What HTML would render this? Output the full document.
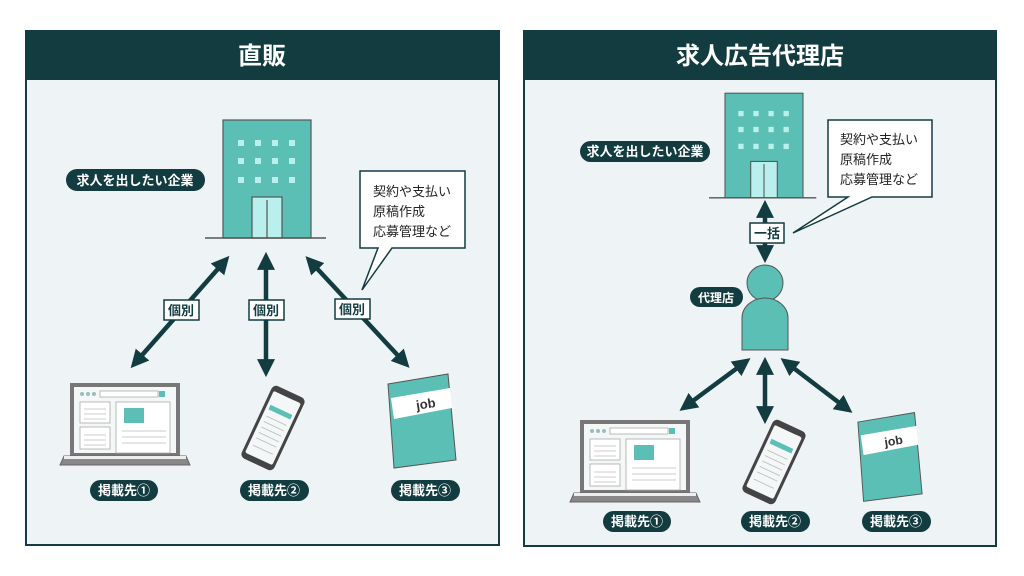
<!DOCTYPE html>
<html><head><meta charset="utf-8"><style>
body{margin:0;background:#fff;}
svg{display:block;font-family:"Liberation Sans","Noto Sans CJK JP",sans-serif;}
</style></head><body>
<svg width="1024" height="576" viewBox="0 0 1024 576" xmlns="http://www.w3.org/2000/svg">
<defs>
<marker id="ah" markerWidth="4" markerHeight="4" refX="2.2" refY="2" orient="auto-start-reverse" markerUnits="strokeWidth"><path d="M0,0 L4,2 L0,4 z" fill="#123c40"/></marker>
<symbol id="bld" viewBox="0 0 88 118" overflow="visible">
<rect x="0" y="0" width="88" height="118" fill="#5bbfb5" stroke="#555" stroke-width="1.2"/>
<g fill="#b9efec">
<rect x="15" y="20" width="6" height="6"/><rect x="32" y="20" width="6" height="6"/><rect x="49" y="20" width="6" height="6"/><rect x="66" y="20" width="6" height="6"/>
<rect x="15" y="38" width="6" height="6"/><rect x="32" y="38" width="6" height="6"/><rect x="49" y="38" width="6" height="6"/><rect x="66" y="38" width="6" height="6"/>
<rect x="15" y="57" width="6" height="6"/><rect x="32" y="57" width="6" height="6"/><rect x="49" y="57" width="6" height="6"/><rect x="66" y="57" width="6" height="6"/>
</g>
<rect x="29" y="77" width="30" height="41" fill="#b9efec" stroke="#555" stroke-width="1.2"/>
<line x1="44" y1="80" x2="44" y2="118" stroke="#555" stroke-width="1.2"/>
<line x1="-18" y1="118" x2="103" y2="118" stroke="#555" stroke-width="1.5"/>
</symbol>
<symbol id="lap" viewBox="0 0 132 86" overflow="visible">
<rect x="10" y="2" width="110" height="73" fill="#777" />
<rect x="14" y="6" width="102" height="66" fill="#f4f7f7"/>
<circle cx="22" cy="13" r="2" fill="#9bbdb9"/><circle cx="28" cy="13" r="2" fill="#9bbdb9"/><circle cx="34" cy="13" r="2" fill="#9bbdb9"/>
<rect x="40" y="10" width="58" height="6" fill="#fff" stroke="#aaa" stroke-width=".8"/><rect x="99" y="10" width="6" height="6" fill="#5bbfb5"/>
<rect x="20" y="21" width="30" height="21" fill="#fff" stroke="#aaa" stroke-width=".8"/>
<rect x="20" y="46" width="30" height="22" fill="#fff" stroke="#aaa" stroke-width=".8"/>
<rect x="56" y="21" width="54" height="51" fill="#fff" stroke="#aaa" stroke-width=".8"/>
<rect x="64" y="27" width="20" height="15" fill="#5bbfb5"/>
<g stroke="#bbb" stroke-width=".8"><line x1="24" y1="28" x2="46" y2="28"/><line x1="24" y1="33" x2="46" y2="33"/><line x1="24" y1="38" x2="46" y2="38"/><line x1="24" y1="54" x2="46" y2="54"/><line x1="24" y1="59" x2="46" y2="59"/><line x1="24" y1="64" x2="46" y2="64"/><line x1="62" y1="50" x2="106" y2="50"/><line x1="62" y1="56" x2="106" y2="56"/><line x1="62" y1="62" x2="106" y2="62"/></g>
<path d="M4,75 L126,75 L130,84 L0,84 Z" fill="#888" stroke="#666" stroke-width="1"/>
<rect x="4" y="75" width="122" height="3" fill="#eee"/>
</symbol>
<symbol id="ph" viewBox="0 0 72 76" overflow="visible">
<g transform="rotate(25 36 38)">
<rect x="18" y="-2" width="36" height="80" rx="5" fill="#444"/>
<rect x="21" y="4" width="30" height="68" rx="2" fill="#f4f7f7"/>
<rect x="28" y="1" width="16" height="3" fill="#444"/>
<rect x="24" y="18" width="24" height="5" fill="#5bbfb5"/>
<g stroke="#bbb" stroke-width=".8"><line x1="25" y1="30" x2="47" y2="30"/><line x1="25" y1="36" x2="47" y2="36"/><line x1="25" y1="42" x2="47" y2="42"/><line x1="25" y1="48" x2="47" y2="48"/><line x1="25" y1="54" x2="47" y2="54"/><line x1="25" y1="62" x2="47" y2="62"/></g>
</g>
</symbol>
<symbol id="bk" viewBox="0 0 72 94" overflow="visible">
<path d="M2,10 L62,0 L70,86 L8,94 Z" fill="#5bbfb5" stroke="#555" stroke-width="1"/>
<path d="M5,24 L64,14 L66,34 L8,45 Z" fill="#fff"/>
<text x="30" y="35" font-size="13" font-weight="bold" fill="#333" transform="rotate(-9 36 30)">job</text>
</symbol>
</defs>
<rect width="1024" height="576" fill="#fff"/>

<!-- LEFT PANEL -->
<rect x="26" y="31" width="473" height="514" fill="#eef3f6" stroke="#123c40" stroke-width="2"/>
<rect x="25" y="30" width="475" height="50" fill="#123c40"/>
<text x="262" y="64" font-size="24" font-weight="bold" fill="#fff" text-anchor="middle">直販</text>

<use href="#bld" x="223" y="120" width="88" height="118"/>
<rect x="66" y="169" width="139" height="22" rx="11" fill="#123c40"/>
<text x="135" y="185" font-size="13" font-weight="bold" fill="#fff" text-anchor="middle">求人を出したい企業</text>

<path d="M360,171 H465 V248 H392 L362,290 L378,248 H360 Z" fill="#fff" stroke="#123c40" stroke-width="1.5"/>
<text x="373" y="196" font-size="13" fill="#222">契約や支払い</text>
<text x="373" y="216" font-size="13" fill="#222">原稿作成</text>
<text x="373" y="236" font-size="13" fill="#222">応募管理など</text>

<g stroke="#123c40" stroke-width="4.5" fill="none" marker-start="url(#ah)" marker-end="url(#ah)">
<line x1="224" y1="262" x2="136" y2="362"/>
<line x1="266" y1="260" x2="266" y2="369"/>
<line x1="311" y1="262" x2="404" y2="362"/>
</g>
<g font-size="13" font-weight="bold" fill="#123c40" text-anchor="middle">
<rect x="164" y="300" width="35" height="20" fill="#fff" stroke="#123c40" stroke-width="1.5"/><text x="181" y="315">個別</text>
<rect x="249" y="300" width="35" height="20" fill="#fff" stroke="#123c40" stroke-width="1.5"/><text x="266" y="315">個別</text>
<rect x="335" y="299" width="35" height="20" fill="#fff" stroke="#123c40" stroke-width="1.5"/><text x="352" y="314">個別</text>
</g>
<use href="#lap" x="60" y="381" width="132" height="86"/>
<use href="#ph" x="237" y="390" width="72" height="76"/>
<use href="#bk" x="386" y="374" width="72" height="94"/>
<g font-size="13" font-weight="bold" fill="#fff" text-anchor="middle">
<rect x="90" y="480" width="68" height="21" rx="10.5" fill="#123c40"/><text x="124" y="495">掲載先①</text>
<rect x="240" y="480" width="69" height="21" rx="10.5" fill="#123c40"/><text x="274" y="495">掲載先②</text>
<rect x="391" y="480" width="69" height="21" rx="10.5" fill="#123c40"/><text x="425" y="495">掲載先③</text>
</g>

<!-- RIGHT PANEL -->
<rect x="524" y="31" width="472" height="515" fill="#eef3f6" stroke="#123c40" stroke-width="2"/>
<rect x="523" y="30" width="474" height="50" fill="#123c40"/>
<text x="760" y="64" font-size="24" font-weight="bold" fill="#fff" text-anchor="middle">求人広告代理店</text>

<use href="#bld" x="725" y="93" width="78" height="105" style="" />
<rect x="580" y="141" width="130" height="21" rx="10.5" fill="#123c40"/>
<text x="645" y="156" font-size="13" font-weight="bold" fill="#fff" text-anchor="middle">求人を出したい企業</text>

<path d="M828,120 H932 V197 H872 L793,233 L848,197 H828 Z" fill="#fff" stroke="#123c40" stroke-width="1.5"/>
<text x="840" y="144" font-size="13" fill="#222">契約や支払い</text>
<text x="840" y="164" font-size="13" fill="#222">原稿作成</text>
<text x="840" y="184" font-size="13" fill="#222">応募管理など</text>

<line x1="765" y1="208" x2="765" y2="255" stroke="#123c40" stroke-width="4.5" marker-start="url(#ah)" marker-end="url(#ah)"/>
<rect x="750" y="223" width="34" height="20" fill="#fff" stroke="#123c40" stroke-width="1.5"/>
<text x="767" y="238" font-size="13" font-weight="bold" fill="#123c40" text-anchor="middle">一括</text>

<circle cx="765" cy="283" r="18" fill="#5bbfb5" stroke="#555" stroke-width="1"/>
<path d="M742,350 V318 A23,20 0 0 1 788,318 V350 Z" fill="#5bbfb5" stroke="#555" stroke-width="1"/>
<rect x="690" y="287" width="53" height="20" rx="10" fill="#123c40"/>
<text x="716" y="302" font-size="12" font-weight="bold" fill="#fff" text-anchor="middle">代理店</text>

<g stroke="#123c40" stroke-width="4.5" fill="none" marker-start="url(#ah)" marker-end="url(#ah)">
<line x1="744" y1="363" x2="686" y2="406"/>
<line x1="765" y1="365" x2="765" y2="416"/>
<line x1="787" y1="363" x2="846" y2="408"/>
</g>
<use href="#lap" x="570" y="418" width="132" height="86"/>
<use href="#ph" x="738" y="424" width="72" height="76"/>
<use href="#bk" x="856" y="411" width="68" height="92"/>
<g font-size="13" font-weight="bold" fill="#fff" text-anchor="middle">
<rect x="603" y="511" width="68" height="21" rx="10.5" fill="#123c40"/><text x="637" y="526">掲載先①</text>
<rect x="741" y="511" width="69" height="21" rx="10.5" fill="#123c40"/><text x="775" y="526">掲載先②</text>
<rect x="862" y="511" width="69" height="21" rx="10.5" fill="#123c40"/><text x="896" y="526">掲載先③</text>
</g>
</svg>
</body></html>
